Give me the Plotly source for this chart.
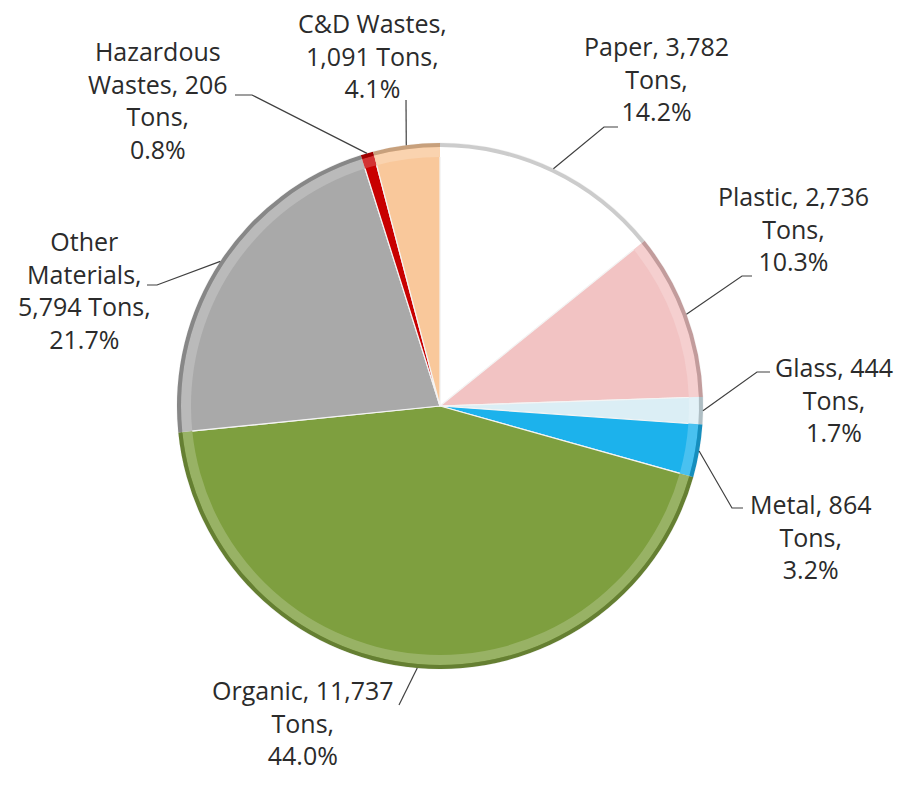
import math
import plotly.graph_objects as go

# Waste composition by material (tons)
materials = ["Paper", "Plastic", "Glass", "Metal", "Organic",
             "Other Materials", "Hazardous Wastes", "C&D Wastes"]
tons = [3782, 2736, 444, 864, 11737, 5794, 206, 1091]
colors = ["#ffffff", "#f2c3c3", "#dbeef5", "#1cb2ec", "#7e9f3f",
          "#a9a9a9", "#c80000", "#f9c89b"]

# How each label wraps: displayed name, break after "name," and after the value
label_names = ["Paper", "Plastic", "Glass", "Metal", "Organic",
               "Other<br>Materials", "Hazardous<br>Wastes", "C&D Wastes"]
break_after_name = [" ", " ", " ", " ", " ", "<br>", " ", "<br>"]
break_after_value = ["<br>", "<br>", "<br>", "<br>", "<br>", " ", "<br>", " "]

# Label block centres (px) and leader-line elbows / tick ends (px)
label_pos = [(656, 79), (793, 229), (834, 399), (810, 536), (303, 722),
             (84, 290), (158, 100), (372, 56)]
elbows = [[(604, 127), (618, 127)],
          [(742, 276), (752, 276)],
          [(757, 372), (770, 372)],
          [(732, 508), (743, 508)],
          [(399, 705)],
          [(157, 285), (147, 285)],
          [(252, 95), (235, 95)],
          [(406, 100)]]

W, H = 898, 787
CX, CY, R = 440, 406, 263
FONT = "Open Sans"
TEXT_COLOR = "#2b2b2b"


def px_to_paper(x, y):
    return x / W, 1 - y / H


def domain_for(radius):
    return dict(x=[(CX - radius) / W, (CX + radius) / W],
                y=[(H - CY - radius) / H, (H - CY + radius) / H])


def mix(hex_color, other, t):
    a = [int(hex_color[i:i + 2], 16) for i in (1, 3, 5)]
    b = [int(other[i:i + 2], 16) for i in (1, 3, 5)]
    c = [round(a[k] * (1 - t) + b[k] * t) for k in range(3)]
    return "#%02x%02x%02x" % tuple(c)


fig = go.Figure()

common = dict(labels=materials, values=tons, sort=False, direction="clockwise",
              rotation=0, textinfo="none", hoverinfo="label+value+percent",
              showlegend=False)

# main slices
fig.add_trace(go.Pie(**common, domain=domain_for(R),
                     marker=dict(colors=colors, line=dict(color="#f4f4f4", width=1.2))))
# bevel: soft highlight band just inside the rim
fig.add_trace(go.Pie(**common, domain=domain_for(R - 4), hole=(R - 14) / (R - 4),
                     marker=dict(colors=[mix(c, "#ffffff", 0.2) for c in colors],
                                 line=dict(color="#f4f4f4", width=0))))
# bevel: shaded outer edge
fig.add_trace(go.Pie(**common, domain=domain_for(R), hole=(R - 4) / R,
                     marker=dict(colors=[mix(c, "#000000", 0.2) for c in colors],
                                 line=dict(color="#f4f4f4", width=0))))

total = sum(tons)
shapes = []
annotations = []
cum = 0.0
for i, v in enumerate(tons):
    mid = (cum + v / 2) / total * 2 * math.pi
    cum += v
    rim = (CX + R * math.sin(mid), CY - R * math.cos(mid))
    pts = [rim] + elbows[i]
    path = ""
    for k, (x, y) in enumerate(pts):
        px, py = px_to_paper(x, y)
        path += ("M" if k == 0 else " L") + f"{px:.5f},{py:.5f}"
    shapes.append(dict(type="path", xref="paper", yref="paper", path=path,
                       line=dict(color="#404040", width=1.2)))

    pct = v / total * 100
    text = (f"{label_names[i]},{break_after_name[i]}{v:,}"
            f"{break_after_value[i]}Tons,<br>{pct:.1f}%")
    ax_, ay_ = px_to_paper(*label_pos[i])
    annotations.append(dict(x=ax_, y=ay_, xref="paper", yref="paper",
                            text=text, showarrow=False, align="center",
                            xanchor="center", yanchor="middle",
                            font=dict(family=FONT, size=25, color=TEXT_COLOR)))

fig.update_layout(width=W, height=H, margin=dict(l=0, r=0, t=0, b=0),
                  paper_bgcolor="#ffffff", plot_bgcolor="#ffffff",
                  shapes=shapes, annotations=annotations)

fig.write_html("out.html")
